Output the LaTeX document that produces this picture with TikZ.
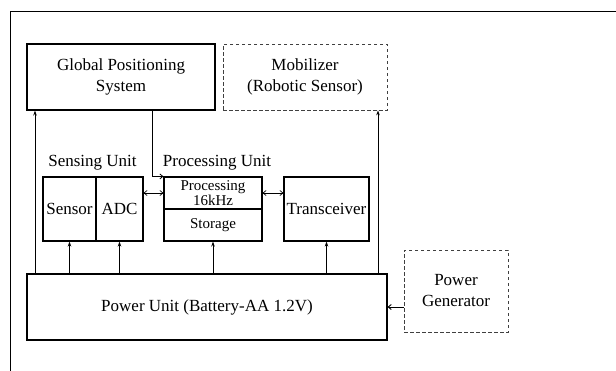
\documentclass[tikz,border=0pt]{standalone}
\usepackage{fontspec}
\setmainfont{Liberation Serif}
\usetikzlibrary{arrows.meta,calc}
\begin{document}
\begin{tikzpicture}[x=1pt,y=-1pt,
  box/.style={draw,line width=1.1pt,rectangle,inner sep=0pt,align=center,font=\fontsize{17}{21}\selectfont},
  dbox/.style={box,draw=black!75,line width=0.8pt,dash pattern=on 3.5pt off 2.5pt},
  small/.style={font=\fontsize{15}{15}\selectfont},
  up/.style={line width=0.9pt,-{Stealth[length=5pt,width=3.5pt]}},
  dbl/.style={line width=0.7pt,{Straight Barb[length=3pt,width=5pt]}-{Straight Barb[length=3pt,width=5pt]}},
  lbl/.style={inner sep=0pt,font=\fontsize{17}{21}\selectfont}]
\useasboundingbox (0,0) rectangle (616,370);
\draw[line width=1pt] (10,380) -- (10,11) -- (630,11);
\node[box,minimum width=188pt,minimum height=66pt] (gps) at (121,77) {Global Positioning\\System};
\node[dbox,minimum width=164pt,minimum height=66pt] (mob) at (305,77) {Mobilizer\\(Robotic Sensor)};
\node[box,minimum width=53pt,minimum height=64pt] (sensor) at (69.5,209) {Sensor};
\node[box,minimum width=47pt,minimum height=64pt] (adc) at (119.5,209) {ADC};
\node[box,small,minimum width=98pt,minimum height=32pt] (proc) at (213,193) {Processing\\16kHz};
\node[box,small,minimum width=98pt,minimum height=32pt] (stor) at (213,225) {Storage};
\node[box,minimum width=85pt,minimum height=64pt] (trans) at (326.5,209) {Transceiver};
\node[box,minimum width=360pt,minimum height=66pt] (pu) at (207,307) {Power Unit (Battery-AA 1.2V)};
\node[dbox,minimum width=104pt,minimum height=82pt] (pg) at (456,291) {Power\\Generator};
\node[lbl] (slbl) at (92.5,163) {Sensing Unit};
\node[lbl] (plbl) at (217,163) {Processing Unit};
\coordinate (lx) at (35,0);
\coordinate (rx) at (378,0);
\coordinate (gx) at (152,0);
\draw[up] (pu.north -| lx) -- (gps.south -| lx);
\draw[up] (pu.north -| rx) -- (mob.south -| rx);
\draw[up] (pu.north -| sensor.south) -- (sensor.south);
\draw[up] (pu.north -| adc.south) -- (adc.south);
\draw[up] (pu.north -| stor.south) -- (stor.south);
\draw[up] (pu.north -| trans.south) -- (trans.south);
\draw[line width=0.8pt,-{Straight Barb[length=3pt,width=5pt]}] (gps.south -| gx) |- (proc.north west);
\draw[dbl] (adc.east |- proc.west) -- (proc.west);
\draw[dbl] (proc.east) -- (trans.west |- proc.east);
\draw[line width=0.9pt,-{Straight Barb[length=3pt,width=5pt]}] (pg.west |- pu.east) -- (pu.east);
\end{tikzpicture}
\end{document}
